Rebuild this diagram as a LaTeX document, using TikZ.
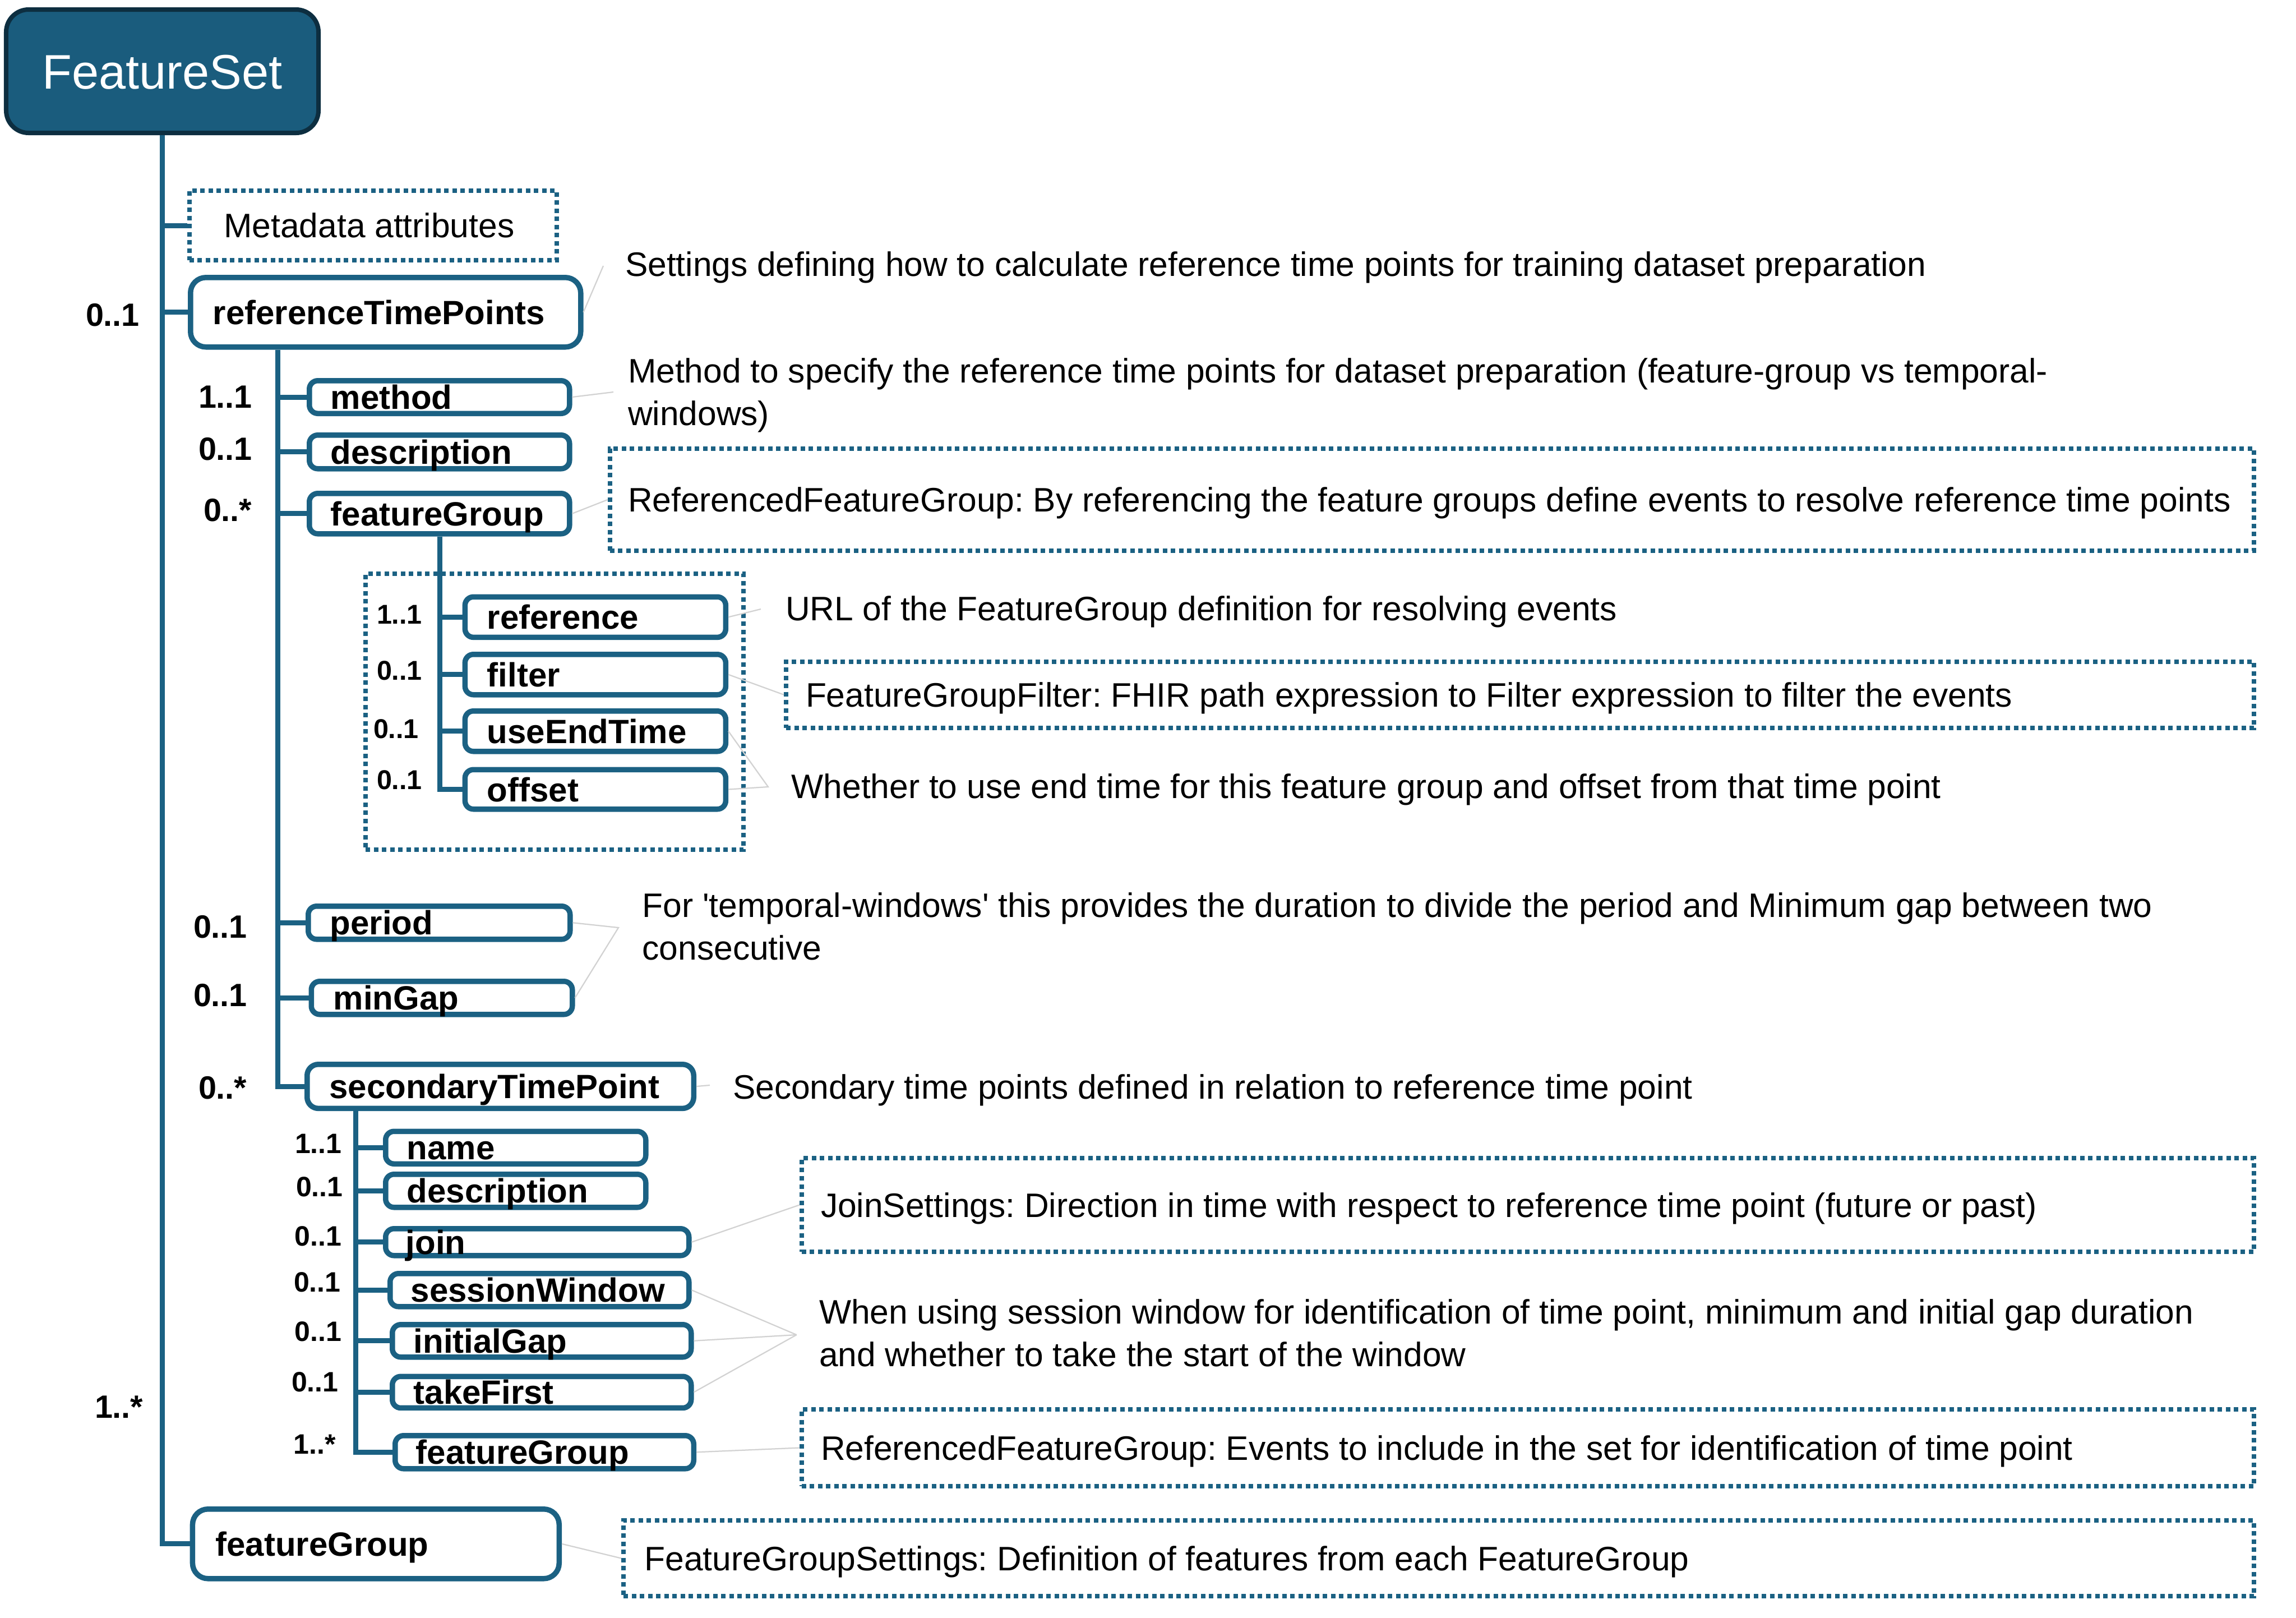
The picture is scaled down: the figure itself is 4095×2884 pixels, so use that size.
\documentclass[tikz,border=0pt]{standalone}
\usepackage{fontspec}
\setmainfont{Liberation Sans}
\frenchspacing
\definecolor{tline}{HTML}{1B6183}
\definecolor{fsfill}{HTML}{1A5C7D}
\definecolor{fsdraw}{HTML}{0D2E40}
\definecolor{faintc}{HTML}{D2D2D2}
\newcommand\nodef{\fontsize{12}{14.4}\selectfont\bfseries}
\newcommand\descf{\fontsize{12.1}{15.2}\selectfont}
\newcommand\multf{\fontsize{11.5}{13}\selectfont\bfseries}
\newcommand\smultf{\fontsize{9.7}{11}\selectfont\bfseries}
\newcommand\ssmultf{\fontsize{10}{11}\selectfont\bfseries}
% #1 style, #2 name, #3 x1, #4 y1, #5 x2, #6 y2, #7 text x, #8 text
\newcommand\bx[8]{%
  \pgfmathsetlengthmacro\bxw{(#5-#3-10)*0.2pt}%
  \pgfmathsetlengthmacro\bxh{(#6-#4-10)*0.2pt}%
  \pgfmathsetlengthmacro\bxs{(#7-#3-5)*0.2pt}%
  \pgfmathsetlengthmacro\bxt{(#5-#3-10)*0.2pt-2*\bxs}%
  \node[#1, anchor=north west, minimum width=\bxw, minimum height=\bxh, inner xsep=\bxs, inner ysep=0pt] (#2) at (#3+5,#4+5) {\makebox[\bxt][l]{#8}};%
}
\tikzset{
  box/.style={draw=tline, line width=1.9pt, rounded corners=3pt, fill=white, font=\nodef, text height=8.6pt, text depth=0pt},
  midbox/.style={box, rounded corners=4pt},
  bigbox/.style={box, rounded corners=5.5pt},
  dbox/.style={draw=tline, line width=1.6pt, dash pattern=on 1.6pt off 1.3pt, font=\descf, text height=8.6pt, text depth=0pt},
  tree/.style={draw=tline, line width=1.8pt},
  faintline/.style={draw=faintc, line width=0.45pt},
  desc/.style={font=\descf, anchor=base west, inner sep=0pt, align=left},
  mult/.style={font=\multf, anchor=base west, inner sep=0pt},
  smult/.style={font=\smultf, anchor=base west, inner sep=0pt},
  ssmult/.style={font=\ssmultf, anchor=base west, inner sep=0pt},
  fsbox/.style={fill=fsfill, draw=fsdraw, line width=1.6pt, rounded corners=8pt, minimum width=111.4pt, minimum height=44pt, text=white, font=\fontsize{17.3}{20}\selectfont, text height=12.4pt, text depth=0pt, inner sep=0pt}
}
\begin{document}
\begin{tikzpicture}[x=0.2pt,y=-0.2pt]
\useasboundingbox (0,0) rectangle (4095,2884);
% root
\node[fsbox] (fs) at (289.5,127) {FeatureSet};
% boxes
\bx{dbox}{meta}{328.6}{331}{993.8}{465}{395.5}{Metadata attributes}
\bx{bigbox}{rtp}{330}{485}{1036}{619}{375}{referenceTimePoints}
\bx{box}{method}{542}{669}{1016}{737.5}{585}{method}
\bx{box}{rdesc}{542}{766}{1016}{836}{585}{description}
\bx{box}{rfg}{542}{870}{1016}{952}{585}{featureGroup}
\bx{dbox}{grp}{643}{1014}{1327}{1516}{660}{}
\bx{box}{ref}{819.6}{1054.5}{1294.6}{1136.6}{864}{reference}
\bx{box}{filter}{819.6}{1157}{1294.6}{1239}{864}{filter}
\bx{box}{uet}{819.6}{1258}{1294.6}{1340}{864}{useEndTime}
\bx{box}{off}{819.6}{1362.5}{1294.6}{1443}{864}{offset}
\bx{box}{period}{540}{1606}{1017}{1675}{584}{period}
\bx{box}{mingap}{545.5}{1740}{1021}{1809}{590}{minGap}
\bx{midbox}{stp}{538}{1888}{1237.5}{1976.6}{582.6}{secondaryTimePoint}
\bx{box}{name}{678}{2007.5}{1152}{2075.5}{721}{name}
\bx{box}{sdesc}{678}{2084}{1152}{2153}{721}{description}
\bx{box}{join}{678}{2181}{1229}{2239}{719}{join}
\bx{box}{sw}{686}{2261}{1229}{2330}{728}{sessionWindow}
\bx{box}{ig}{690}{2352}{1233}{2420}{733}{initialGap}
\bx{box}{tf}{690}{2444.5}{1233}{2510.7}{733}{takeFirst}
\bx{box}{sfg}{695}{2550}{1237.5}{2619}{737}{featureGroup}
\bx{bigbox}{fgm}{333.7}{2681}{997.5}{2815}{379.6}{featureGroup}
% dashed description boxes
\bx{dbox}{d3}{1078.6}{791}{4021}{983}{1116}{ReferencedFeatureGroup: By referencing the feature groups define events to resolve reference time points}
\bx{dbox}{d5}{1393}{1170.5}{4021}{1299}{1433}{FeatureGroupFilter: FHIR path expression to Filter expression to filter the events}
\bx{dbox}{d9}{1420.7}{2056}{4021}{2233}{1460}{JoinSettings: Direction in time with respect to reference time point (future or past)}
\bx{dbox}{d11}{1420.7}{2504}{4021}{2651}{1460}{ReferencedFeatureGroup: Events to include in the set for identification of time point}
\bx{dbox}{d12}{1103}{2702}{4021}{2847}{1145.7}{FeatureGroupSettings: Definition of features from each FeatureGroup}
% free descriptions (base = baseline of last line)
\node[desc] (t1) at (1114,492) {Settings defining how to calculate reference time points for training dataset preparation};
\node[desc] (t2) at (1119,758) {Method to specify the reference time points for dataset preparation (feature-group vs temporal-\\windows)};
\node[desc] (t4) at (1400,1106) {URL of the FeatureGroup definition for resolving events};
\node[desc] (t6) at (1410.7,1423) {Whether to use end time for this feature group and offset from that time point};
\node[desc] (t7) at (1144.6,1711) {For \textquotesingle temporal-windows\textquotesingle{} this provides the duration to divide the period and Minimum gap between two\\consecutive};
\node[desc] (t8) at (1306,1959) {Secondary time points defined in relation to reference time point};
\node[desc] (t10) at (1460,2436.6) {When using session window for identification of time point, minimum and initial gap duration\\and whether to take the start of the window};
% multiplicities
\node[mult] (m1) at (152,581) {0..1};
\node[mult] (m2) at (353,727) {1..1};
\node[mult] (m3) at (353,820) {0..1};
\node[mult] (m4) at (362,929.5) {0..*};
\node[mult] (m5) at (344,1672) {0..1};
\node[mult] (m6) at (344,1794) {0..1};
\node[mult] (m7) at (353,1959) {0..*};
\node[mult] (m8) at (168,2528) {1..*};
\node[smult] (s1) at (671,1112.5) {1..1};
\node[smult] (s2) at (671,1212.5) {0..1};
\node[smult] (s3) at (665,1316) {0..1};
\node[smult] (s4) at (671,1407) {0..1};
\node[ssmult] (u1) at (525,2056) {1..1};
\node[ssmult] (u2) at (527,2133) {0..1};
\node[ssmult] (u3) at (524.5,2221) {0..1};
\node[ssmult] (u4) at (523,2303) {0..1};
\node[ssmult] (u5) at (524.5,2391.5) {0..1};
\node[ssmult] (u6) at (519,2481.5) {0..1};
\node[ssmult] (u7) at (522.5,2592.7) {1..*};
% tree connectors
\draw[tree] (fs.south) |- (fgm.west);
\draw[tree] (fs.south |- meta.west) -- (meta.west);
\draw[tree] (fs.south |- rtp.west) -- (rtp.west);
\coordinate (l2) at ([xshift=32pt]rtp.south west);
\draw[tree] (l2) |- (stp.west);
\foreach \n in {method,rdesc,rfg,period,mingap} \draw[tree] (l2 |- \n.west) -- (\n.west);
\coordinate (l3) at ([xshift=47.4pt]rfg.south west);
\draw[tree] (l3) |- (off.west);
\foreach \n in {ref,filter,uet} \draw[tree] (l3 |- \n.west) -- (\n.west);
\coordinate (l4) at ([xshift=18.3pt]stp.south west);
\draw[tree] (l4) |- (sfg.west);
\foreach \n in {name,sdesc,join,sw,ig,tf} \draw[tree] (l4 |- \n.west) -- (\n.west);
% faint leader lines
\coordinate (c1) at (1076,474);
\coordinate (c2) at (1094,699);
\coordinate (c4) at (1357,1086);
\coordinate (c6) at (1370,1403);
\coordinate (c7) at (1103,1654);
\coordinate (c8) at (1266,1935);
\coordinate (c10) at (1420.7,2380);
\draw[faintline] (rtp.east) -- (c1);
\draw[faintline] (method.east) -- (c2);
\draw[faintline] (rfg.east) -- (d3.west);
\draw[faintline] (ref.east) -- (c4);
\draw[faintline] (filter.east) -- (d5.west);
\draw[faintline] (uet.east) -- (c6) -- (off.east);
\draw[faintline] (period.east) -- (c7) -- (mingap.east);
\draw[faintline] (stp.east) -- (c8);
\draw[faintline] (join.east) -- (d9.west);
\draw[faintline] (sw.east) -- (c10);
\draw[faintline] (ig.east) -- (c10);
\draw[faintline] (tf.east) -- (c10);
\draw[faintline] (sfg.east) -- (d11.west);
\draw[faintline] (fgm.east) -- (d12.west);
\end{tikzpicture}
\end{document}
